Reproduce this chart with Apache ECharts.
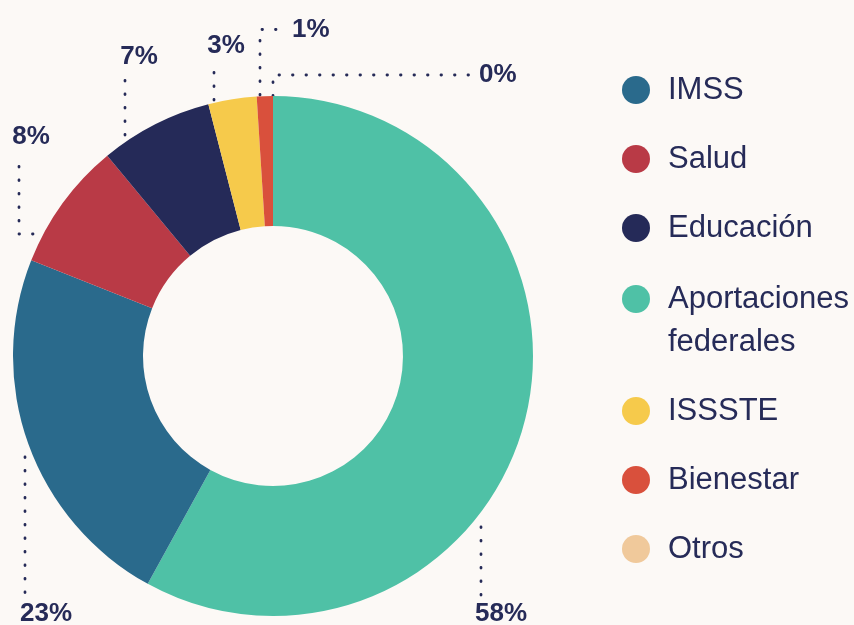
<!DOCTYPE html>
<html>
<head>
<meta charset="utf-8">
<script src="https://cdn.jsdelivr.net/npm/echarts@6/dist/echarts.min.js"></script>
<style>
  html, body { margin: 0; padding: 0; background: #fcf9f6; }
  #chart { width: 854px; height: 625px; }
</style>
</head>
<body>
<div id="chart"></div>
<script>
// data, clockwise from 12 o'clock
var names = ['Aportaciones federales', 'IMSS', 'Salud', 'Educación', 'ISSSTE', 'Bienestar', 'Otros'];
var values = [58, 23, 8, 7, 3, 1, 0];
var colors = ['#4fc1a6', '#2a6a8c', '#b93a46', '#252a58', '#f6ca4b', '#d9503c', '#f0c99b'];
// legend order
var legendTop = ['IMSS', 'Salud', 'Educación'];
var legendBottom = ['Aportaciones federales', 'ISSSTE', 'Bienestar', 'Otros'];

var ink = '#262b58';
var font = 'Liberation Sans';

// where each % label goes and the dotted leader it gets
var labelSpots = [
    { x: 501, y: 614, align: 'center', line: [[481, 527], [481, 560], [481, 597]] },
    { x: 46, y: 614, align: 'center', line: [[25, 457], [25, 520], [25, 597]] },
    { x: 31, y: 137, align: 'center', line: [[33, 234], [19, 234], [19, 164]] },
    { x: 139, y: 57, align: 'center', line: [[125, 135], [125, 105], [125, 77]] },
    { x: 226, y: 46, align: 'center', line: [[214, 100], [214, 85], [214, 68]] },
    { x: 292, y: 30, align: 'left', line: [[260, 95], [260, 29.5], [284, 29.5]] },
    { x: 479, y: 75, align: 'left', line: [[273, 96], [273, 75], [472, 75]] }
];

var myChart = echarts.init(document.getElementById('chart'));

var pieData = names.map(function (n, i) {
    return { name: n, value: values[i], itemStyle: { color: colors[i] } };
});

var legendText = {
    fontFamily: font,
    fontSize: 31,
    color: ink,
    lineHeight: 43
};

option = {
    backgroundColor: '#fcf9f6',
    animation: false,
    legend: [{
        orient: 'vertical',
        left: 617,
        top: 63.5,
        icon: 'circle',
        itemWidth: 54,
        itemHeight: 28,
        itemGap: 26,
        data: legendTop,
        textStyle: legendText
    }, {
        orient: 'vertical',
        left: 617,
        top: 229.5,
        icon: 'circle',
        itemWidth: 54,
        itemHeight: 28,
        itemGap: 26,
        data: legendBottom,
        formatter: function (name) {
            if (name === 'Aportaciones federales') {
                return '{a|Aportaciones}\n{b|federales}';
            }
            return name;
        },
        textStyle: {
            fontFamily: font,
            fontSize: 31,
            color: ink,
            lineHeight: 43,
            rich: {
                a: { fontFamily: font, fontSize: 31, color: ink, lineHeight: 86, height: 43, verticalAlign: 'bottom' },
                b: { fontFamily: font, fontSize: 31, color: ink, lineHeight: 43 }
            }
        }
    }],
    series: [{
        type: 'pie',
        center: [273, 356],
        radius: [130, 260],
        startAngle: 90,
        clockwise: true,
        avoidLabelOverlap: false,
        minShowLabelAngle: 0,
        legendHoverLink: false,
        emphasis: { disabled: true },
        label: {
            show: true,
            position: 'outside',
            formatter: function (p) { return Math.round(p.value) + '%'; },
            fontFamily: font,
            fontSize: 26,
            fontWeight: 'bold',
            color: ink
        },
        labelLine: {
            show: true,
            lineStyle: {
                color: ink,
                width: 2.8,
                type: [0.5, 13],
                cap: 'round'
            }
        },
        labelLayout: function (params) {
            var s = labelSpots[params.dataIndex];
            return {
                x: s.x,
                y: s.y,
                align: s.align,
                verticalAlign: 'middle',
                hideOverlap: false,
                moveOverlap: null,
                labelLinePoints: s.line
            };
        },
        data: pieData
    }]
};

myChart.setOption(option);
</script>
</body>
</html>
